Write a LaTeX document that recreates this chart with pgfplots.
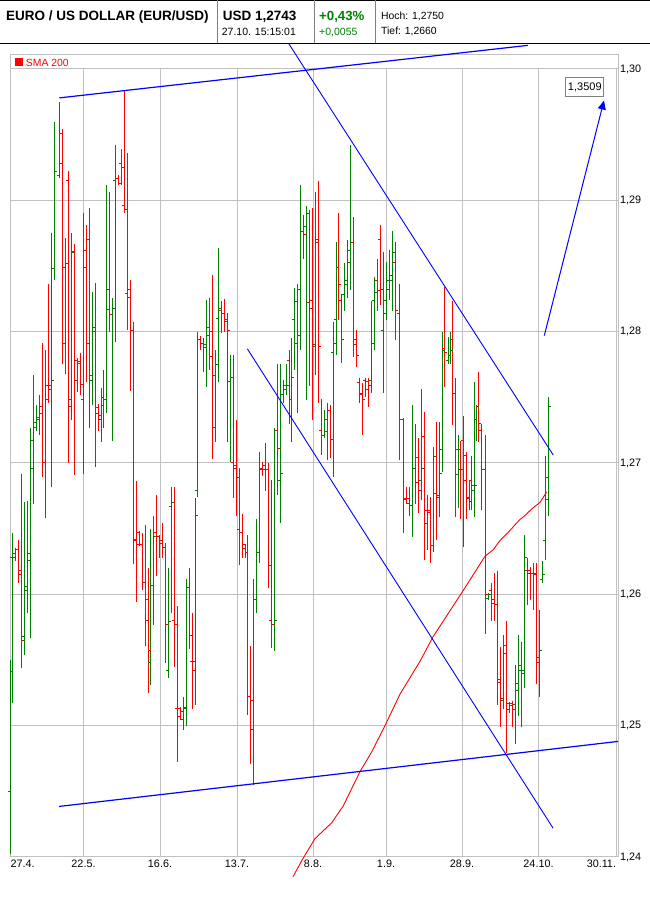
\documentclass[border=0pt]{standalone}
\usepackage{fontspec}
\setmainfont{Liberation Sans}
\usepackage{pgfplots}
\pgfplotsset{compat=1.18}
\usepackage{pgfplotstable}
\usetikzlibrary{arrows.meta}
\definecolor{gcol}{RGB}{0,128,0}
\definecolor{rcol}{RGB}{255,0,0}
\definecolor{bcol}{RGB}{0,0,255}
\definecolor{gridc}{RGB}{192,192,192}
\definecolor{sepc}{RGB}{128,128,128}
\pgfdeclareplotmark{otick}{\pgfpathmoveto{\pgfqpoint{-2.5pt}{0pt}}\pgfpathlineto{\pgfqpoint{0pt}{0pt}}\pgfusepathqstroke}
\pgfdeclareplotmark{ctick}{\pgfpathmoveto{\pgfqpoint{0pt}{0pt}}\pgfpathlineto{\pgfqpoint{2.5pt}{0pt}}\pgfusepathqstroke}
\pgfdeclareplotmark{nothing}{}

% rising bars (close > open): x  open  high  low  close
\pgfplotstableread{
x o h l c
10.3 1.2450 1.2550 1.2402 1.2541
12.3 1.2628 1.2647 1.2517 1.2631
15.3 1.2628 1.2635 1.2625 1.2634
24.3 1.2568 1.2670 1.2554 1.2606
27.3 1.2603 1.2671 1.2586 1.2626
30.3 1.2631 1.2727 1.2567 1.2696
33.3 1.2717 1.2767 1.2669 1.2727
36.3 1.2731 1.2744 1.2724 1.2735
39.3 1.2733 1.2752 1.2721 1.2738
45.3 1.2700 1.2786 1.2658 1.2748
51.3 1.2759 1.2875 1.2682 1.2763
54.3 1.2848 1.2960 1.2839 1.2922
59.3 1.2919 1.2975 1.2917 1.2928
65.3 1.2849 1.2871 1.2768 1.2852
71.3 1.2748 1.2875 1.2733 1.2860
83.3 1.2748 1.2890 1.2692 1.2849
92.3 1.2763 1.2830 1.2744 1.2800
101.3 1.2733 1.2757 1.2716 1.2744
106.3 1.2748 1.2912 1.2738 1.2832
112.3 1.2813 1.2826 1.2717 1.2818
115.3 1.2915 1.2942 1.2792 1.2917
150.7 1.2548 1.2650 1.2531 1.2607
153.3 1.2607 1.2660 1.2577 1.2644
168.3 1.2542 1.2620 1.2536 1.2579
171.3 1.2667 1.2682 1.2586 1.2670
183.3 1.2511 1.2522 1.2497 1.2513
186.3 1.2514 1.2612 1.2500 1.2605
195.3 1.2549 1.2673 1.2516 1.2660
197.3 1.2679 1.2800 1.2674 1.2794
206.3 1.2790 1.2824 1.2758 1.2797
215.3 1.2767 1.2786 1.2716 1.2775
218.3 1.2810 1.2864 1.2762 1.2818
230.3 1.2762 1.2782 1.2701 1.2765
253.3 1.2497 1.2612 1.2455 1.2596
256.3 1.2596 1.2657 1.2586 1.2632
259.3 1.2632 1.2708 1.2624 1.2695
274.3 1.2577 1.2727 1.2557 1.2580
280.3 1.2687 1.2775 1.2654 1.2692
283.3 1.2752 1.2763 1.2746 1.2759
286.3 1.2756 1.2775 1.2752 1.2759
291.3 1.2748 1.2795 1.2716 1.2765
294.3 1.2809 1.2833 1.2771 1.2823
297.3 1.2791 1.2836 1.2738 1.2797
300.3 1.2832 1.2912 1.2786 1.2876
306.3 1.2880 1.2896 1.2748 1.2890
315.3 1.2789 1.2906 1.2767 1.2870
324.3 1.2721 1.2740 1.2719 1.2724
327.3 1.2733 1.2746 1.2702 1.2740
333.3 1.2784 1.2807 1.2689 1.2791
336.3 1.2809 1.2868 1.2782 1.2849
344.3 1.2828 1.2852 1.2816 1.2839
347.3 1.2836 1.2870 1.2826 1.2853
350.7 1.2862 1.2942 1.2832 1.2868
371.3 1.2763 1.2823 1.2753 1.2791
374.3 1.2824 1.2842 1.2786 1.2830
383.3 1.2801 1.2861 1.2753 1.2814
386.3 1.2824 1.2853 1.2809 1.2839
389.3 1.2832 1.2862 1.2824 1.2843
392.3 1.2839 1.2877 1.2816 1.2860
412.3 1.2668 1.2744 1.2644 1.2696
415.3 1.2696 1.2730 1.2669 1.2704
421.3 1.2687 1.2756 1.2672 1.2696
433.3 1.2637 1.2712 1.2632 1.2705
439.3 1.2675 1.2731 1.2659 1.2692
442.3 1.2710 1.2800 1.2693 1.2786
448.3 1.2778 1.2796 1.2775 1.2782
450.3 1.2782 1.2800 1.2775 1.2786
458.3 1.2691 1.2721 1.2666 1.2695
474.3 1.2679 1.2762 1.2659 1.2683
476.3 1.2733 1.2744 1.2717 1.2743
488.3 1.2597 1.2601 1.2596 1.2600
503.3 1.2519 1.2569 1.2513 1.2555
509.3 1.2512 1.2518 1.2510 1.2515
515.3 1.2516 1.2546 1.2486 1.2532
518.3 1.2527 1.2569 1.2507 1.2542
524.3 1.2542 1.2645 1.2529 1.2628
539.3 1.2552 1.2588 1.2522 1.2557
542.3 1.2611 1.2625 1.2609 1.2615
545.0 1.2641 1.2705 1.2626 1.2689
548.0 1.2672 1.2750 1.2660 1.2743
}\upbars

% falling bars (close < open)
\pgfplotstableread{
x o h l c
18.3 1.2634 1.2641 1.2609 1.2615
21.3 1.2618 1.2692 1.2544 1.2565
42.3 1.2743 1.2791 1.2689 1.2700
48.3 1.2759 1.2836 1.2746 1.2756
62.3 1.2951 1.2954 1.2775 1.2791
68.3 1.2915 1.2922 1.2700 1.2743
74.3 1.2861 1.2867 1.2691 1.2763
77.3 1.2778 1.2780 1.2754 1.2776
80.3 1.2777 1.2784 1.2752 1.2760
86.3 1.2862 1.2881 1.2762 1.2791
89.3 1.2870 1.2894 1.2727 1.2767
95.3 1.2803 1.2837 1.2697 1.2738
98.3 1.2742 1.2745 1.2724 1.2736
103.3 1.2750 1.2771 1.2727 1.2748
109.3 1.2817 1.2906 1.2800 1.2813
118.3 1.2917 1.2919 1.2912 1.2913
121.3 1.2928 1.2939 1.2912 1.2925
124.3 1.2896 1.2983 1.2890 1.2893
127.3 1.2829 1.2936 1.2801 1.2826
130.3 1.2832 1.2839 1.2755 1.2801
133.3 1.2801 1.2807 1.2623 1.2642
136.3 1.2641 1.2686 1.2594 1.2638
139.3 1.2647 1.2648 1.2637 1.2638
142.3 1.2638 1.2647 1.2603 1.2609
145.3 1.2609 1.2653 1.2561 1.2580
148.3 1.2596 1.2620 1.2525 1.2557
156.3 1.2647 1.2676 1.2614 1.2644
159.3 1.2644 1.2645 1.2628 1.2641
162.3 1.2639 1.2654 1.2628 1.2636
165.3 1.2636 1.2639 1.2548 1.2577
174.3 1.2580 1.2682 1.2545 1.2577
177.3 1.2513 1.2591 1.2472 1.2507
180.3 1.2513 1.2514 1.2505 1.2505
189.3 1.2605 1.2620 1.2558 1.2569
192.3 1.2549 1.2586 1.2513 1.2542
200.3 1.2794 1.2797 1.2786 1.2791
203.3 1.2791 1.2795 1.2769 1.2788
209.3 1.2803 1.2826 1.2771 1.2800
212.3 1.2781 1.2843 1.2703 1.2727
221.3 1.2816 1.2823 1.2799 1.2814
224.3 1.2814 1.2825 1.2800 1.2809
227.3 1.2808 1.2814 1.2716 1.2801
233.3 1.2700 1.2782 1.2673 1.2698
236.3 1.2696 1.2733 1.2660 1.2689
239.3 1.2649 1.2696 1.2622 1.2647
242.3 1.2647 1.2661 1.2628 1.2638
245.3 1.2635 1.2638 1.2628 1.2632
247.3 1.2632 1.2645 1.2508 1.2522
250.3 1.2522 1.2561 1.2471 1.2519
262.3 1.2696 1.2701 1.2690 1.2695
265.3 1.2698 1.2715 1.2679 1.2695
268.3 1.2695 1.2700 1.2605 1.2622
271.3 1.2580 1.2687 1.2559 1.2577
277.3 1.2725 1.2775 1.2676 1.2711
289.3 1.2778 1.2786 1.2730 1.2748
303.3 1.2876 1.2889 1.2855 1.2874
309.3 1.2822 1.2893 1.2759 1.2818
312.3 1.2824 1.2894 1.2733 1.2790
318.3 1.2868 1.2915 1.2746 1.2789
321.3 1.2725 1.2749 1.2706 1.2721
330.3 1.2740 1.2744 1.2704 1.2718
338.3 1.2849 1.2890 1.2809 1.2836
341.3 1.2824 1.2829 1.2776 1.2794
353.3 1.2868 1.2887 1.2781 1.2794
356.3 1.2790 1.2801 1.2773 1.2782
359.3 1.2761 1.2765 1.2746 1.2752
362.3 1.2753 1.2761 1.2721 1.2748
365.3 1.2763 1.2765 1.2750 1.2756
368.3 1.2762 1.2765 1.2743 1.2759
377.3 1.2839 1.2855 1.2816 1.2831
380.3 1.2870 1.2881 1.2820 1.2832
395.3 1.2853 1.2868 1.2794 1.2816
399.5 1.2814 1.2836 1.2702 1.2733
403.3 1.2733 1.2734 1.2647 1.2672
406.3 1.2673 1.2682 1.2669 1.2669
409.3 1.2673 1.2682 1.2660 1.2668
418.3 1.2685 1.2719 1.2662 1.2679
424.3 1.2720 1.2739 1.2626 1.2654
427.3 1.2664 1.2676 1.2634 1.2662
430.3 1.2664 1.2674 1.2624 1.2637
436.3 1.2677 1.2731 1.2641 1.2674
444.3 1.2787 1.2834 1.2758 1.2784
452.3 1.2794 1.2823 1.2729 1.2753
455.3 1.2753 1.2765 1.2659 1.2710
460.7 1.2710 1.2717 1.2657 1.2695
463.3 1.2717 1.2736 1.2636 1.2706
466.3 1.2687 1.2708 1.2657 1.2673
469.3 1.2674 1.2687 1.2664 1.2671
471.3 1.2687 1.2705 1.2664 1.2683
478.3 1.2743 1.2769 1.2716 1.2730
481.3 1.2725 1.2730 1.2664 1.2695
485.3 1.2695 1.2721 1.2570 1.2600
491.3 1.2603 1.2609 1.2580 1.2593
494.3 1.2596 1.2616 1.2580 1.2592
497.3 1.2592 1.2618 1.2516 1.2533
500.3 1.2535 1.2560 1.2499 1.2521
506.3 1.2561 1.2580 1.2479 1.2517
512.3 1.2517 1.2519 1.2499 1.2512
521.3 1.2546 1.2564 1.2499 1.2540
527.3 1.2618 1.2628 1.2592 1.2616
530.3 1.2618 1.2621 1.2596 1.2616
533.3 1.2616 1.2624 1.2588 1.2615
536.3 1.2616 1.2624 1.2532 1.2548
}\downbars

\begin{document}
\begin{tikzpicture}
\useasboundingbox (0,0) rectangle (650pt,900pt);
\fill[white] (0,0) rectangle (650pt,900pt);
\begin{scope}[shift={(0pt,900pt)}, x=1pt, y=-1pt]
  % header
  \draw[black, line width=1pt] (0,0.5) -- (650,0.5);
  \draw[black, line width=1.2pt] (0,43.7) -- (650,43.7);
  \draw[sepc, line width=1pt] (217.3,0) -- (217.3,43.2);
  \draw[sepc, line width=1pt] (314.3,0) -- (314.3,43.2);
  \draw[sepc, line width=1pt] (375.3,0) -- (375.3,43.2);
  \node[anchor=base west, inner sep=0pt, font=\fontsize{13.5}{16}\selectfont\bfseries] at (6,20.7) {EURO / US DOLLAR (EUR/USD)};
  \node[anchor=base west, inner sep=0pt, font=\fontsize{13.5}{16}\selectfont\bfseries] at (222.7,20.7) {USD 1,2743};
  \node[anchor=base west, inner sep=0pt, text=gcol, font=\fontsize{13.2}{16}\selectfont\bfseries] at (319,20.7) {+0,43\%};
  \node[anchor=base west, inner sep=0pt, font=\fontsize{10.5}{12}\selectfont] at (221.7,35.7) {27.10. 15:15:01};
  \node[anchor=base west, inner sep=0pt, text=gcol, font=\fontsize{10.5}{12}\selectfont] at (319,35.7) {+0,0055};
  \node[anchor=base west, inner sep=0pt, font=\fontsize{10.4}{12}\selectfont] at (381,19.3) {Hoch: 1,2750};
  \node[anchor=base west, inner sep=0pt, font=\fontsize{10.4}{12}\selectfont] at (381,34.7) {Tief: 1,2660};
  % plot frame and legend strip
  \draw[gridc, line width=1pt] (10.5,55) rectangle (618,857);
  \fill[rcol] (15,58.3) rectangle (22.7,65.7);
  \node[anchor=base west, inner sep=0pt, text=rcol, font=\fontsize{10.4}{12}\selectfont] at (25.7,66.7) {SMA 200};
\end{scope}
\begin{axis}[
  at={(10.5pt,43pt)}, anchor=south west,
  scale only axis, width=607.5pt, height=788pt,
  xmin=10.5, xmax=618, ymin=1.24, ymax=1.30,
  clip=false,
  axis line style={gridc, line width=1pt},
  grid=major, major grid style={gridc, line width=1pt},
  xtick={10.5,83.5,160,237,313,386,462,538.5,616},
  xticklabels={\rlap{27.4.},22.5.,16.6.,13.7.,8.8.,1.9.,28.9.,24.10.,\llap{30.11.}},
  ytick={1.24,1.25,1.26,1.27,1.28,1.29,1.30},
  yticklabels={{1,24},{1,25},{1,26},{1,27},{1,28},{1,29},{1,30}},
  yticklabel pos=right,
  major tick length=0pt,
  tick label style={font=\fontsize{10.8}{12}\selectfont, text=black},
  yticklabel style={anchor=west, inner sep=0pt, xshift=2pt},
  xticklabel style={anchor=north, inner sep=0pt, yshift=-3pt},
]
% rising bars
\addplot[draw=none, mark=nothing, forget plot, error bars/.cd, y dir=minus, y explicit, error mark=none, error bar style={draw=gcol, line width=1pt}]
  table[x=x, y=h, y error minus expr=\thisrow{h}-\thisrow{l}] {\upbars};
\addplot[only marks, mark=otick, gcol, mark options={line width=1pt}, forget plot] table[x=x, y=o] {\upbars};
\addplot[only marks, mark=ctick, gcol, mark options={line width=1pt}, forget plot] table[x=x, y=c] {\upbars};
% falling bars
\addplot[draw=none, mark=nothing, forget plot, error bars/.cd, y dir=minus, y explicit, error mark=none, error bar style={draw=rcol, line width=1pt}]
  table[x=x, y=h, y error minus expr=\thisrow{h}-\thisrow{l}] {\downbars};
\addplot[only marks, mark=otick, rcol, mark options={line width=1pt}, forget plot] table[x=x, y=o] {\downbars};
\addplot[only marks, mark=ctick, rcol, mark options={line width=1pt}, forget plot] table[x=x, y=c] {\downbars};
% SMA 200
\addplot[rcol, line width=0.9pt, mark=none] coordinates {
 (293,1.2385) (302.3,1.2398) (315,1.2414) (323.3,1.2420) (331.7,1.2426) (343.3,1.2439)
 (360,1.2465) (371.7,1.2480) (385,1.2500) (400,1.2524) (420,1.2549) (433.3,1.2568)
 (463.3,1.2603) (485,1.2629) (493.3,1.2634) (500,1.2641) (506.7,1.2646) (520,1.2657)
 (525,1.2660) (531.7,1.2665) (540,1.2670) (546.7,1.2678)};
% trend lines
\addplot[bcol, line width=1.2pt, mark=none] coordinates {(59.3,1.2978) (528,1.3018)};
\addplot[bcol, line width=1.2pt, mark=none] coordinates {(59,1.24385) (618,1.2488)};
\addplot[bcol, line width=0.9pt, mark=none] coordinates {(289,1.3019) (553.3,1.2706)};
\addplot[bcol, line width=0.9pt, mark=none] coordinates {(247.3,1.2787) (553,1.2422)};
\addplot[bcol, line width=1pt, mark=none, -{Triangle[length=9pt,width=8pt]}] coordinates {(544.3,1.2797) (604,1.2976)};
\node[draw=sepc, line width=1pt, fill=white, inner sep=0pt, minimum width=38pt, minimum height=19pt, font=\fontsize{11}{12}\selectfont] at (axis cs:584.8,1.2986) {1,3509};
\end{axis}
\end{tikzpicture}
\end{document}
